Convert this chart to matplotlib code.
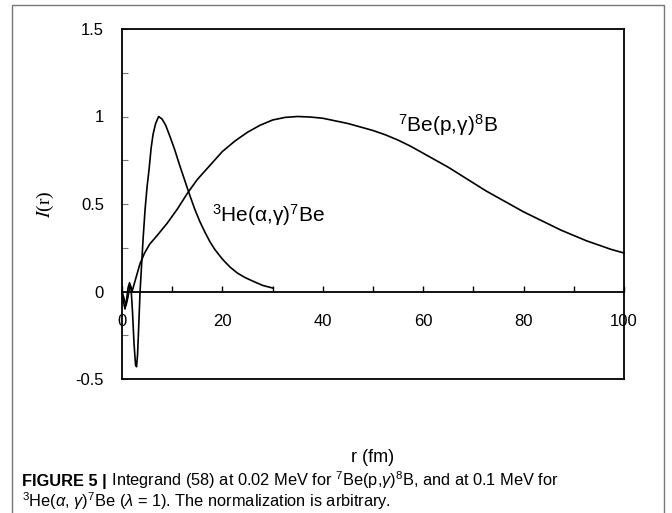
import numpy as np
import matplotlib
matplotlib.use('Agg')
import matplotlib.pyplot as plt
from matplotlib.patches import Rectangle
from matplotlib.ticker import MultipleLocator

plt.rcParams['font.family'] = ['Liberation Sans', 'DejaVu Sans']
plt.rcParams['mathtext.fontset'] = 'custom'
plt.rcParams['mathtext.rm'] = 'Liberation Sans'
plt.rcParams['mathtext.it'] = 'Liberation Sans:italic'
plt.rcParams['mathtext.bf'] = 'Liberation Sans:bold'

# ── Data ───────────────────────────────────────────────────────────────────
# 7Be(p,gamma)8B integrand at 0.02 MeV
r_be = [0, 0.4, 0.8, 1.2, 1.6, 2.0, 2.5, 3.0, 3.6, 4.5,
        5.5, 7, 9, 11, 13, 15, 17.5, 20, 22.5, 25,
        27.5, 30, 32.5, 35, 37.5, 40, 42.5, 45, 47.5, 50,
        52.5, 55, 57.5, 60, 62.5, 65, 67.5, 70, 72.5, 75,
        77.5, 80, 82.5, 85, 87.5, 90, 92.5, 95, 97.5, 100]
i_be = [0, -0.04, -0.08, -0.03, 0.04, 0.0, 0.05, 0.1, 0.16, 0.22,
        0.27, 0.32, 0.39, 0.47, 0.56, 0.64, 0.72, 0.80, 0.86, 0.91,
        0.95, 0.98, 0.995, 1.0, 0.997, 0.99, 0.975, 0.96, 0.94, 0.92,
        0.895, 0.865, 0.83, 0.79, 0.75, 0.71, 0.665, 0.62, 0.575, 0.535,
        0.495, 0.455, 0.42, 0.385, 0.35, 0.32, 0.29, 0.265, 0.24, 0.22]

# 3He(alpha,gamma)7Be integrand at 0.1 MeV
r_he = [0, 0.3, 0.6, 0.9, 1.2, 1.5, 1.8, 2.1, 2.4, 2.7,
        2.9, 3.1, 3.3, 3.6, 3.9, 4.2, 4.6, 5.0, 5.4, 5.8,
        6.2, 6.7, 7.3, 8, 8.7, 9.5, 10.5, 11.5, 12.5, 13.5,
        14.5, 15.5, 16.5, 17.5, 18.5, 20, 21.5, 23, 24.5, 26,
        28, 30]
i_he = [0, -0.06, -0.1, -0.05, 0.02, 0.05, 0.02, -0.12, -0.3, -0.42,
        -0.43, -0.36, -0.22, 0.0, 0.15, 0.3, 0.47, 0.6, 0.7, 0.82,
        0.9, 0.96, 1.0, 0.985, 0.95, 0.89, 0.81, 0.72, 0.635, 0.55,
        0.47, 0.40, 0.34, 0.285, 0.24, 0.185, 0.14, 0.105, 0.08, 0.06,
        0.035, 0.02]

x_ticks = [0, 20, 40, 60, 80, 100]
y_ticks = [-0.5, 0, 0.5, 1, 1.5]
y_ticklabels = ['-0.5', '0', '0.5', '1', '1.5']

label_be = r'$^{7}$Be(p,γ)$^{8}$B'
label_he = r'$^{3}$He(α,γ)$^{7}$Be'

caption_head = 'FIGURE 5 |'
caption_1 = (' Integrand (58) at 0.02 MeV for $^{7}$Be(p,$\\gamma$)$^{8}$B, '
             'and at 0.1 MeV for')
caption_2 = ('$^{3}$He($\\alpha$, $\\gamma$)$^{7}$Be ($\\lambda$ = 1). '
             'The normalization is arbitrary.')

# ── Figure ─────────────────────────────────────────────────────────────────
W, H = 672, 513
fig = plt.figure(figsize=(W / 100, H / 100), dpi=100)
ax = fig.add_axes([122 / W, 1 - 379 / H, 502 / W, 350 / H])

ax.plot(r_be, i_be, color='black', lw=1.2, clip_on=False)
ax.plot(r_he, i_he, color='black', lw=1.2, clip_on=False)

ax.set_xlim(0, 100)
ax.set_ylim(-0.5, 1.5)

# x axis sits on the zero line, box closed at the bottom
ax.spines['bottom'].set_position(('data', 0))
ax.axhline(-0.5, color='black', lw=1.3, clip_on=False)
for s in ['left', 'right', 'top', 'bottom']:
    ax.spines[s].set_linewidth(1.3)

ax.set_xticks(x_ticks)
ax.xaxis.set_minor_locator(MultipleLocator(10))
ax.set_yticks(y_ticks)
ax.set_yticklabels(y_ticklabels)
ax.yaxis.set_minor_locator(MultipleLocator(0.25))

ax.tick_params(axis='x', which='both', direction='in', length=4, width=1,
               pad=16, labelsize=12)
ax.tick_params(axis='y', which='both', direction='in', length=4, width=0.8,
               color='#777777', pad=13, labelsize=12)

ax.set_xlabel('r (fm)', fontsize=13, va='center')
ax.xaxis.set_label_coords(0.5, -0.224)
ax.set_ylabel(r'$I$(r)', fontsize=14, family=['Liberation Serif'],
              math_fontfamily='stix', va='center')
ax.yaxis.set_label_coords(-0.152, 0.5)

ax.text(55, 0.95, label_be, fontsize=15, va='center', ha='left')
ax.text(17.9, 0.437, label_he, fontsize=15, va='center', ha='left')

# outer frame
fig.patches.append(Rectangle((12 / W, -0.02), 652 / W, 1.02 - 5 / H,
                             transform=fig.transFigure, fill=False,
                             edgecolor='#777777', lw=1))

# caption: bold head, then the rest right after it
t1 = fig.text(22 / W, 1 - 486 / H, caption_head, fontsize=11.8,
              fontweight='bold', va='baseline', ha='left')
fig.canvas.draw()
bb = t1.get_window_extent()
fig.text(bb.x1 / W, 1 - 486 / H, caption_1, fontsize=11.8,
         va='baseline', ha='left')
fig.text(22 / W, 1 - 507 / H, caption_2, fontsize=11.8,
         va='baseline', ha='left')

plt.savefig('out.png', dpi=100)
plt.close(fig)
